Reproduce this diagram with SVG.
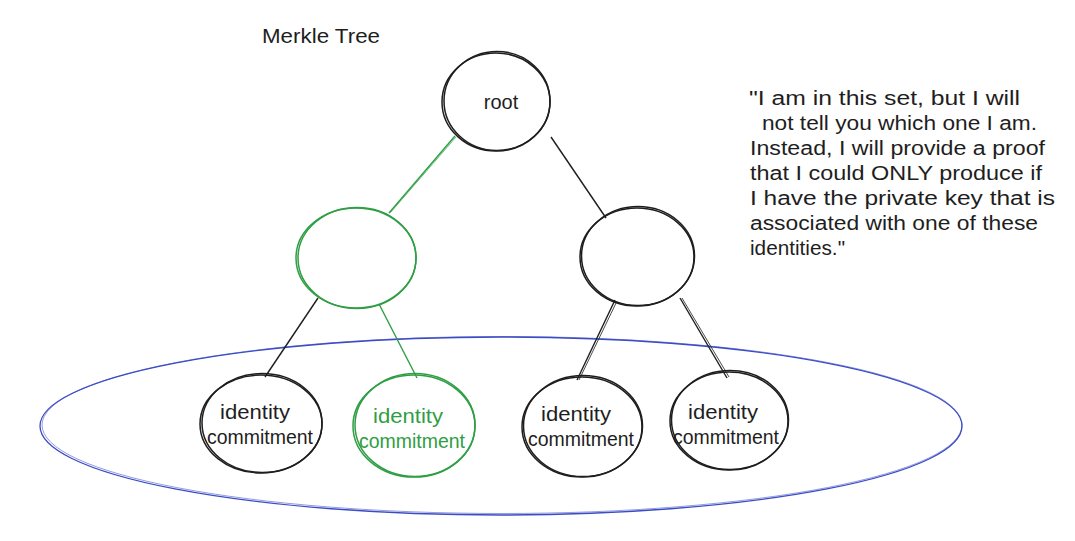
<svg xmlns="http://www.w3.org/2000/svg" width="1075" height="541" viewBox="0 0 1075 541">
<style>
.n{fill:none;stroke:#1e1e1e;stroke-width:1.5}
.g{fill:none;stroke:#2f9e44;stroke-width:1.5}
.t{font-family:"Liberation Sans",Arial,sans-serif;font-size:20px;fill:#1e1e1e}
.tg{fill:#2f9e44}
.q{font-family:"Liberation Sans",Arial,sans-serif;font-size:20px;fill:#1e1e1e}
</style>
<rect width="1075" height="541" fill="#ffffff"/>
<g id="set">
<ellipse cx="501" cy="426" rx="461" ry="89" fill="none" stroke="#3b4cc4" stroke-width="1.3"/>
<ellipse cx="502" cy="425" rx="460" ry="88.5" fill="none" stroke="#3b4cc4" stroke-width="0.8" opacity="0.7"/>
</g>
<g id="connectors" stroke-width="1.4" fill="none">
<line x1="389" y1="213" x2="455" y2="136" stroke="#2f9e44"/>
<line x1="390.5" y1="212.5" x2="456" y2="137" stroke="#2f9e44" stroke-width="0.7"/>
<line x1="551" y1="137" x2="606" y2="218" stroke="#1e1e1e"/>
<line x1="318" y1="298" x2="265" y2="377" stroke="#1e1e1e"/>
<line x1="379" y1="304" x2="417" y2="378" stroke="#2f9e44"/>
<line x1="615" y1="300" x2="577" y2="380" stroke="#1e1e1e"/>
<line x1="617" y1="301" x2="579" y2="380" stroke="#1e1e1e" stroke-width="0.8"/>
<line x1="680" y1="298" x2="727" y2="378" stroke="#1e1e1e"/>
<line x1="682" y1="298" x2="729" y2="377" stroke="#1e1e1e" stroke-width="0.8"/>
</g>
<g id="title"><text class="t" x="262" y="43" textLength="118" lengthAdjust="spacingAndGlyphs">Merkle Tree</text></g>
<g id="root">
<ellipse class="n" cx="496" cy="102" rx="54" ry="49"/>
<ellipse class="n" cx="497" cy="101" rx="53" ry="49.5" stroke-width="0.7"/>
<text class="t" x="501" y="109" text-anchor="middle" font-size="21">root</text>
</g>
<g id="mid-left">
<ellipse class="g" cx="356" cy="258" rx="60" ry="50"/>
<ellipse class="g" cx="357" cy="258" rx="59" ry="50.5" stroke-width="0.7"/>
</g>
<g id="mid-right">
<ellipse class="n" cx="637" cy="257" rx="57" ry="49"/>
<ellipse class="n" cx="638" cy="256" rx="56.5" ry="49.5" stroke-width="0.7"/>
</g>
<g id="leaf1">
<ellipse class="n" cx="261" cy="424" rx="61" ry="49"/>
<ellipse class="n" cx="262" cy="423" rx="60" ry="49.5" stroke-width="0.7"/>
<text class="t" x="255" y="419" text-anchor="middle" textLength="70" lengthAdjust="spacingAndGlyphs">identity</text>
<text class="t" x="260" y="444" text-anchor="middle" textLength="106" lengthAdjust="spacingAndGlyphs">commitment</text>
</g>
<g id="leaf2">
<ellipse class="g" cx="414" cy="426" rx="61" ry="51"/>
<ellipse class="g" cx="415" cy="425" rx="60" ry="51.5" stroke-width="0.7"/>
<text class="t tg" x="408" y="423" text-anchor="middle" textLength="70" lengthAdjust="spacingAndGlyphs">identity</text>
<text class="t tg" x="412" y="448" text-anchor="middle" textLength="106" lengthAdjust="spacingAndGlyphs">commitment</text>
</g>
<g id="leaf3">
<ellipse class="n" cx="582" cy="427" rx="60" ry="50"/>
<ellipse class="n" cx="583" cy="426" rx="59.5" ry="50.5" stroke-width="0.7"/>
<text class="t" x="576" y="421" text-anchor="middle" textLength="70" lengthAdjust="spacingAndGlyphs">identity</text>
<text class="t" x="581" y="446" text-anchor="middle" textLength="106" lengthAdjust="spacingAndGlyphs">commitment</text>
</g>
<g id="leaf4">
<ellipse class="n" cx="729" cy="421" rx="59" ry="49"/>
<ellipse class="n" cx="730" cy="420" rx="58.5" ry="49.5" stroke-width="0.7"/>
<text class="t" x="723" y="419" text-anchor="middle" textLength="70" lengthAdjust="spacingAndGlyphs">identity</text>
<text class="t" x="726" y="444" text-anchor="middle" textLength="106" lengthAdjust="spacingAndGlyphs">commitment</text>
</g>
<g id="quote">
<text class="q" x="749" y="105" textLength="271" lengthAdjust="spacingAndGlyphs">"I am in this set, but I will</text>
<text class="q" x="762" y="130" textLength="275" lengthAdjust="spacingAndGlyphs">not tell you which one I am.</text>
<text class="q" x="750" y="155" textLength="295" lengthAdjust="spacingAndGlyphs">Instead, I will provide a proof</text>
<text class="q" x="750" y="180" textLength="292" lengthAdjust="spacingAndGlyphs">that I could ONLY produce if</text>
<text class="q" x="750" y="205" textLength="305" lengthAdjust="spacingAndGlyphs">I have the private key that is</text>
<text class="q" x="750" y="230" textLength="288" lengthAdjust="spacingAndGlyphs">associated with one of these</text>
<text class="q" x="750" y="255" textLength="95" lengthAdjust="spacingAndGlyphs">identities."</text>
</g>
</svg>
